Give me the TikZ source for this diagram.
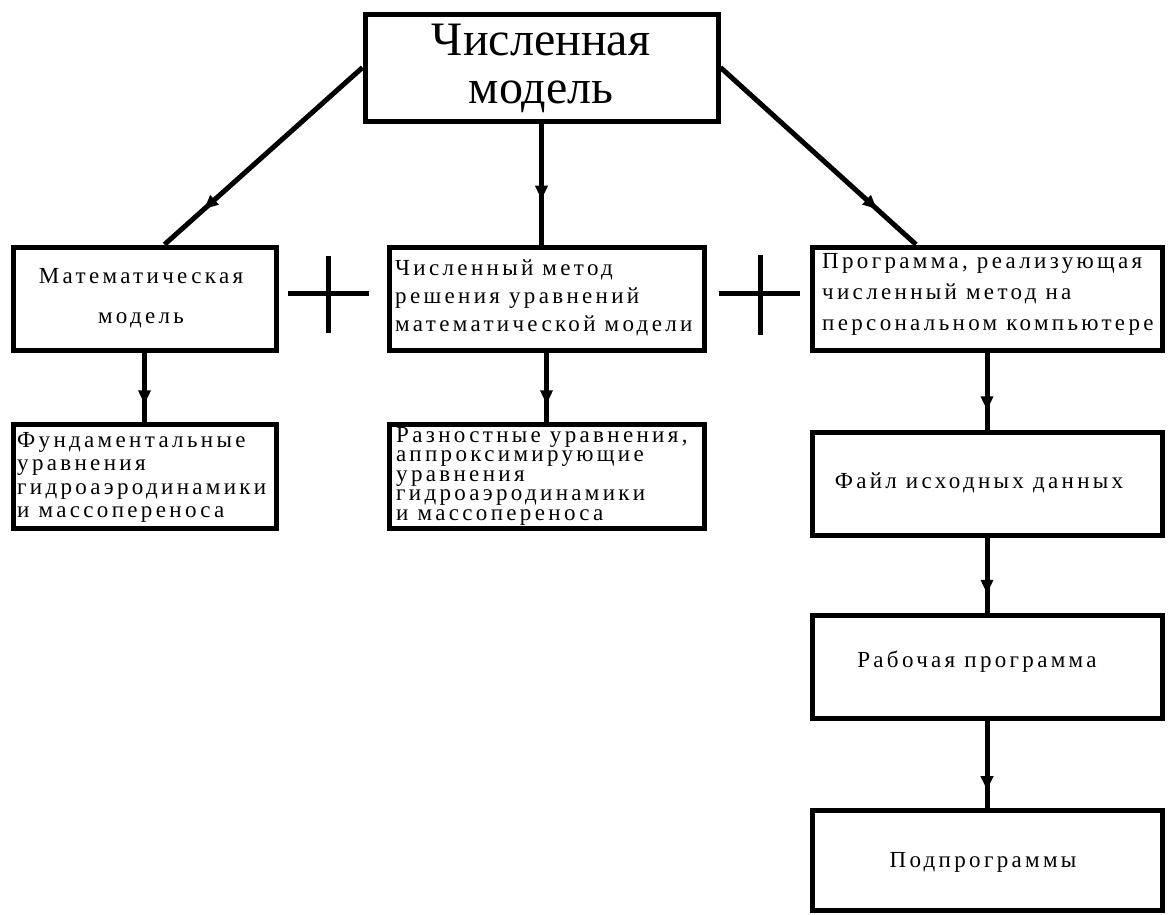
\documentclass[tikz,border=0pt]{standalone}
\usepackage{fontspec}
\setmainfont{Liberation Serif}
\newfontfamily\tmf{Liberation Serif}
\newfontfamily\lsf[LetterSpace=14.5]{Liberation Serif}
\usetikzlibrary{arrows.meta,decorations.markings}
\begin{document}
\begin{tikzpicture}[x=1pt,y=-1pt,
  box/.style={draw,line width=5pt,inner sep=0pt,minimum height=103pt},
  conn/.style={line width=5pt,decoration={markings,mark=at position #1 with {\arrow{Triangle[length=14pt,width=12pt]}}},postaction=decorate},
  txt/.style={anchor=north west,align=left,inner sep=0pt},
  ctxt/.style={anchor=base,inner sep=0pt,font=\lsf\fontsize{23}{25}\selectfont},
  plusline/.style={line width=5pt}]
\useasboundingbox (0,0) rectangle (1168,914);

% boxes
\node[box,minimum width=353pt,minimum height=107pt] (top) at (541.5,67.5) {};
\node[box,minimum width=263pt] (mm) at (144.5,298.5) {};
\node[box,minimum width=315pt] (mid) at (546.5,298.5) {};
\node[box,minimum width=350pt] (prog) at (987,298.5) {};
\node[box,minimum width=263pt,minimum height=104pt] (fund) at (144.5,476) {};
\node[box,minimum width=315pt,minimum height=104pt] (diff) at (546.5,476) {};
\node[box,minimum width=350pt] (file) at (987,483.5) {};
\node[box,minimum width=350pt] (work) at (987,666.5) {};
\node[box,minimum width=350pt,minimum height=100pt] (sub) at (987,860) {};

% texts
\node[anchor=north,align=center,inner sep=0pt,font=\tmf\fontsize{48}{48}\selectfont] (topt) at (541,16.6) {\rule{0pt}{38.4pt}Численная\\модель};
\node[anchor=north,align=center,inner sep=0pt,font=\lsf\fontsize{23}{40}\selectfont] (mmt) at (141,264.6) {\rule{0pt}{18.4pt}Математическая\\модель};
\node[txt,font=\lsf\fontsize{23}{28}\selectfont] (midt) at (395,256.6) {\rule{0pt}{18.4pt}Численный метод\\решения уравнений\\математической модели};
\node[txt,font=\lsf\fontsize{23}{31}\selectfont] (progt) at (822,249.6) {\rule{0pt}{18.4pt}Программа, реализующая\\численный метод на\\персональном компьютере};
\node[txt,font=\lsf\fontsize{23}{23.5}\selectfont] (fundt) at (17,428.6) {\rule{0pt}{18.4pt}Фундаментальные\\уравнения\\гидроаэродинамики\\и массопереноса};
\node[txt,font=\lsf\fontsize{23}{19.5}\selectfont] (difft) at (396,423.6) {\rule{0pt}{18.4pt}Разностные уравнения,\\аппроксимирующие\\уравнения\\гидроаэродинамики\\и массопереноса};
\node[ctxt] (filet) at (979,488) {Файл исходных данных};
\node[ctxt] (workt) at (977,667) {Рабочая программа};
\node[ctxt] (subt) at (983,867) {Подпрограммы};

% connectors
\draw[conn=0.8] (top.west) -- ([xshift=20pt]mm.north);
\draw[conn=0.63] (top.south) -- (top.south |- mid.north);
\draw[conn=0.8] (top.east) -- ([xshift=-71pt]prog.north);
\draw[conn=0.75] (mm.south) -- (fund.north);
\draw[conn=0.75] (mid.south) -- (diff.north);
\draw[conn=0.75] (prog.south) -- (prog.south |- file.north);
\draw[conn=0.75] (file.south) -- (file.south |- work.north);
\draw[conn=0.8] (work.south) -- (work.south |- sub.north);

% plus signs
\draw[plusline] (288,293) -- (369,293) (328,256) -- (328,333);
\draw[plusline] (719,293) -- (800,293) (760,255) -- (760,335);
\end{tikzpicture}
\end{document}
